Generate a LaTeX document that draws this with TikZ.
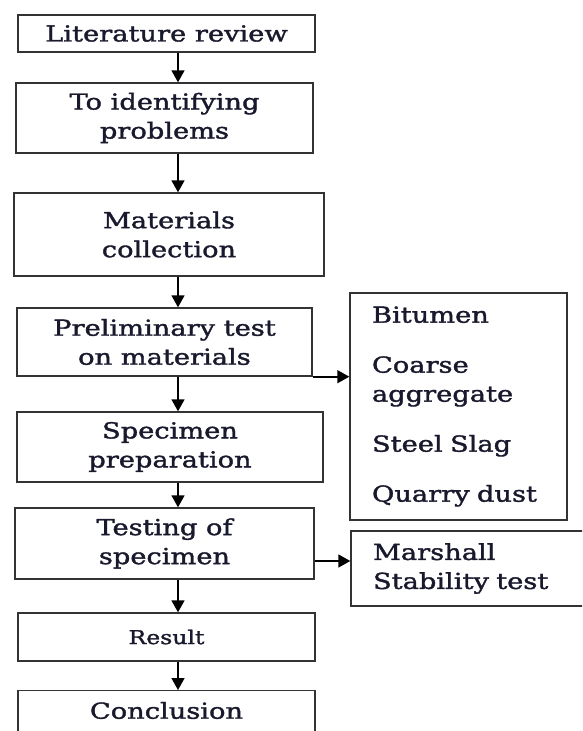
\documentclass[tikz,border=0pt]{standalone}
\usepackage{fontspec}
\setmainfont[FakeStretch=1.24, FakeBold=1.6]{DejaVu Serif}
\usetikzlibrary{arrows.meta}
\definecolor{encre}{RGB}{25,25,45}
\tikzset{
  boite/.style={draw=black!80, line width=1.4pt, align=center, inner sep=0pt,
    text=encre, font=\fontsize{22}{29}\selectfont},
  liste/.style={boite, align=left, inner xsep=22pt},
  fleche/.style={-{Triangle[length=12pt,width=13pt]}, line width=1.6pt},
}
\begin{document}
\begin{tikzpicture}[x=1pt, y=-1pt]
  \path[use as bounding box, clip] (0,0) rectangle (582,731);
  \coordinate (axe) at (178,0);

  % Les étapes
  \node[boite, minimum width=297pt, minimum height=37pt] (e1) at (166.5,33.5) {Literature review};
  \node[boite, minimum width=297pt, minimum height=70pt] (e2) at (164.5,118) {To identifying\\ problems};
  \node[boite, minimum width=310pt, minimum height=83pt] (e3) at (169,234.5) {Materials\\ collection};
  \node[boite, minimum width=295pt, minimum height=68pt] (e4) at (164.5,342) {Preliminary test\\ on materials};
  \node[boite, minimum width=306pt, minimum height=70pt] (e5) at (170,447) {Specimen\\ preparation};
  \node[boite, minimum width=299pt, minimum height=71pt] (e6) at (164.5,543.5) {Testing of\\ specimen};
  \node[boite, font=\fontsize{19}{25}\selectfont, minimum width=297pt, minimum height=48pt] (e7) at (166.5,637) {Result};
  \node[boite, minimum width=297pt, anchor=north, text height=28pt, text depth=40pt] (e8) at (166.5,690) {Conclusion};

  % Les encadrés à droite
  \node[liste, text width=173pt, minimum height=227pt] (r1) at (458.5,406.5)
    {Bitumen\\[21pt] Coarse\\ aggregate\\[21pt] Steel Slag\\[21pt] Quarry dust};
  \node[liste, text width=205pt, minimum height=75pt] (r2) at (475.5,568.5)
    {Marshall\\ Stability test};

  % Les flèches
  \foreach \i/\j in {1/2,2/3,3/4,4/5,5/6,6/7,7/8}
    \draw[fleche] (e\i.south -| axe) -- (e\j.north -| axe);
  \draw[fleche] (e4.south east) -- (e4.south east -| r1.west);
  \draw[fleche] ([yshift=-17.5pt]e6.east) -- ([yshift=-17.5pt]e6.east -| r2.west);
\end{tikzpicture}
\end{document}
